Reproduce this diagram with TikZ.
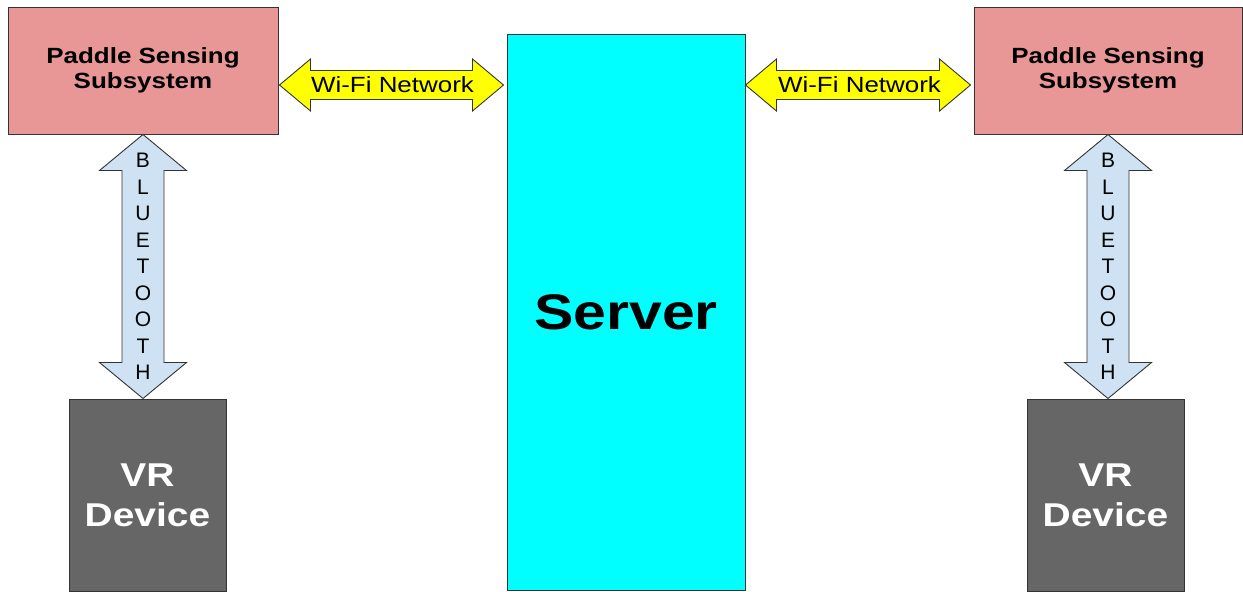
\documentclass[tikz,border=0pt]{standalone}
\usepackage{fontspec}
\setmainfont{Liberation Sans}
\usepackage{graphicx}
\usetikzlibrary{calc}

\definecolor{paddlefill}{HTML}{E99696}
\definecolor{vrfill}{HTML}{666666}
\definecolor{serverfill}{HTML}{00FFFF}
\definecolor{wififill}{HTML}{FFFF00}
\definecolor{btfill}{HTML}{CFE2F3}
\definecolor{edge}{HTML}{333333}

% slightly widened lettering
\newcommand\widetext[1]{\scalebox{1.18}[1]{#1}}

% horizontal double-headed block arrow between two tips at the same height
\newcommand\hdblarrow[3]{%
  \path[blockarrow, fill=#3] let \p1=(#1), \p2=(#2) in
    (\x1,\y1) -- (\x1+31pt,\y1+26pt) -- (\x1+31pt,\y1+14.5pt)
    -- (\x2-31pt,\y1+14.5pt) -- (\x2-31pt,\y1+26pt) -- (\x2,\y1)
    -- (\x2-31pt,\y1-26pt) -- (\x2-31pt,\y1-14.5pt)
    -- (\x1+31pt,\y1-14.5pt) -- (\x1+31pt,\y1-26pt) -- cycle;}

% vertical double-headed block arrow between two tips on the same vertical
\newcommand\vdblarrow[3]{%
  \path[blockarrow, fill=#3] let \p1=(#1), \p2=(#2) in
    (\x1,\y1) -- (\x1+43.5pt,\y1-36pt) -- (\x1+21pt,\y1-36pt)
    -- (\x1+21pt,\y2+36pt) -- (\x1+43.5pt,\y2+36pt) -- (\x1,\y2)
    -- (\x1-43.5pt,\y2+36pt) -- (\x1-21pt,\y2+36pt)
    -- (\x1-21pt,\y1-36pt) -- (\x1-43.5pt,\y1-36pt) -- cycle;}

\begin{document}
\begin{tikzpicture}[x=1pt, y=-1pt,
  box/.style={draw=edge, line width=1pt, inner sep=0pt, align=center},
  paddle/.style={box, fill=paddlefill, minimum height=127pt,
    font=\fontsize{22}{25}\selectfont\bfseries},
  vr/.style={box, fill=vrfill, minimum width=157pt, minimum height=192pt,
    text=white, font=\fontsize{33}{40}\selectfont\bfseries},
  server/.style={box, fill=serverfill, minimum width=238pt, minimum height=556pt,
    font=\fontsize{50}{60}\selectfont\bfseries},
  blockarrow/.style={draw=edge, line width=0.9pt, line join=miter},
  wifilabel/.style={inner sep=0pt, font=\fontsize{22}{26}\selectfont},
  btlabel/.style={inner sep=0pt, align=center, font=\fontsize{21}{26.5}\selectfont}
]
\useasboundingbox (0,0) rectangle (1243,592);

% boxes
\node[paddle, minimum width=270pt] (pl) at (143,70.5)
  {\widetext{Paddle Sensing}\\\widetext{Subsystem}};
\node[paddle, minimum width=268pt] (pr) at (1108,70.5)
  {\widetext{Paddle Sensing}\\\widetext{Subsystem}};
\node[server] (srv) at (626,312) {\widetext{Server}};
\node[vr] (vl) at (147.5,495) {\widetext{VR}\\\widetext{Device}};
\node[vr] (vr) at (1105.5,495) {\widetext{VR}\\\widetext{Device}};

% Wi-Fi links
\coordinate (wy) at (0,85);
\hdblarrow{$(pl.east |- wy)+(1,0)$}{$(srv.west |- wy)+(-3,0)$}{wififill}
\hdblarrow{$(srv.east |- wy)+(0,0)$}{$(pr.west |- wy)+(-3,0)$}{wififill}
\node[wifilabel] (wl) at ($(pl.east |- wy)!0.5!(srv.west |- wy)$) {\widetext{Wi-Fi Network}};
\node[wifilabel] (wr) at ($(srv.east |- wy)!0.5!(pr.west |- wy)$) {\widetext{Wi-Fi Network}};

% Bluetooth links
\vdblarrow{pl.south}{pl.south |- vl.north}{btfill}
\vdblarrow{pr.south}{pr.south |- vr.north}{btfill}
\node[btlabel] (bl) at ($(pl.south)!0.5!(pl.south |- vl.north)$)
  {B\\L\\U\\E\\T\\O\\O\\T\\H};
\node[btlabel] (br) at ($(pr.south)!0.5!(pr.south |- vr.north)$)
  {B\\L\\U\\E\\T\\O\\O\\T\\H};
\end{tikzpicture}
\end{document}
